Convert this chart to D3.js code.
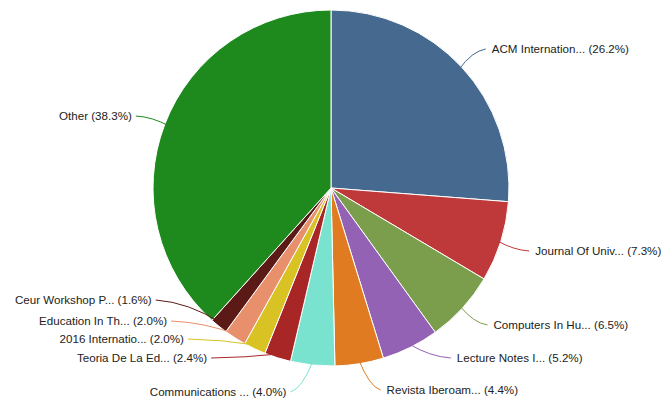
<!DOCTYPE html>
<html><head><meta charset="utf-8">
<script src="https://cdn.jsdelivr.net/npm/d3@7"></script>
<style>body{margin:0;background:#fff}svg{display:block}</style>
</head><body>
<svg id="c" width="664" height="398"></svg>
<script>
const labels = ["ACM Internation...","Journal Of Univ...","Computers In Hu...","Lecture Notes I...","Revista Iberoam...","Communications ...","Teoria De La Ed...","2016 Internatio...","Education In Th...","Ceur Workshop P...","Other"];
const values = [26.2,7.3,6.5,5.2,4.4,4.0,2.4,2.0,2.0,1.6,38.3];
const colors = ["#45698f","#c0393a","#7a9e4c","#9362b5","#e07b22","#79e3d0","#a82626","#d9c224","#e8906b","#5c1a16","#1e8a1e"];
// label layout (vertical label positions after collision avoidance)
const labelY = [49,251,325,358,390,392,358,339,321,300,116];

const svg = d3.select("#c");
const cx = 331, cy = 188, r = 178, dist = 30;
const g = svg.append("g").attr("transform",`translate(${cx},${cy})`);
const pie = d3.pie().sort(null).value(d=>d)(values);
const arc = d3.arc().innerRadius(0).outerRadius(r);
g.selectAll("path.s").data(pie).join("path").attr("class","s")
  .attr("d",arc).attr("fill",(d,i)=>colors[i]).attr("stroke","#fff").attr("stroke-width",1);

pie.forEach((d,i)=>{
  const a = (d.startAngle+d.endAngle)/2;
  const ex = (r-4)*Math.sin(a), ey = -(r-4)*Math.cos(a);
  const right = Math.sin(a) >= 0;
  const ly = labelY[i]-cy;
  const R = r+dist;
  const lx = (right?1:-1)*Math.sqrt(Math.max(0,R*R-ly*ly));
  const p = d3.path();
  p.moveTo(lx,ly);
  p.quadraticCurveTo((lx+ex)/2, ly + (ey-ly)*0.1, ex, ey);
  g.append("path").attr("d",p.toString()).attr("fill","none").attr("stroke",colors[i]).attr("stroke-width",1);
  g.append("text").attr("x",lx+(right?6:-4)).attr("y",ly).attr("dy","0.35em")
    .attr("text-anchor",right?"start":"end")
    .attr("font-family","'Liberation Sans', Arial, sans-serif").attr("font-size","11.6px").attr("fill","#222")
    .text(`${labels[i]} (${values[i].toFixed(1)}%)`);
});
</script>
</body></html>
